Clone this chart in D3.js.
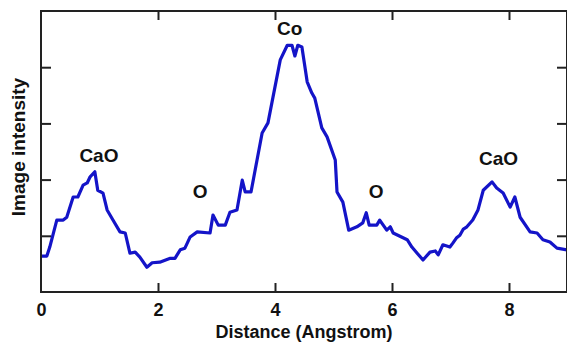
<!DOCTYPE html>
<html><head><meta charset="utf-8">
<script src="https://cdn.jsdelivr.net/npm/d3@7"></script>
<style>body{margin:0;background:#fff}svg{display:block}text{font-family:"Liberation Sans",Arial,sans-serif;font-weight:bold}</style>
</head><body>
<script>
const distance = [0,0.10,0.15,0.27,0.38,0.44,0.55,0.63,0.72,0.79,0.84,0.92,0.97,1.06,1.13,1.23,1.35,1.44,1.52,1.61,1.69,1.81,1.90,2.03,2.21,2.29,2.38,2.46,2.55,2.67,2.89,2.94,3.03,3.15,3.23,3.35,3.44,3.49,3.59,3.78,3.88,4.09,4.21,4.29,4.34,4.39,4.46,4.55,4.63,4.68,4.80,4.89,5.03,5.06,5.16,5.26,5.40,5.50,5.56,5.61,5.74,5.79,5.85,5.91,5.97,6.02,6.26,6.34,6.43,6.53,6.65,6.74,6.79,6.87,6.99,7.04,7.10,7.16,7.22,7.28,7.38,7.47,7.56,7.71,7.79,7.90,8.02,8.10,8.19,8.36,8.48,8.58,8.70,8.82,8.99];
const intensity = [0.64,0.64,0.80,1.28,1.28,1.33,1.69,1.69,1.90,1.94,2.05,2.14,1.81,1.76,1.46,1.28,1.07,1.05,0.69,0.71,0.62,0.44,0.52,0.53,0.60,0.60,0.75,0.78,0.98,1.07,1.05,1.37,1.19,1.19,1.42,1.46,1.99,1.78,1.78,2.83,3.01,4.13,4.39,4.39,4.20,4.39,4.36,3.74,3.54,3.45,2.92,2.76,2.35,1.78,1.60,1.10,1.16,1.23,1.41,1.19,1.19,1.28,1.19,1.10,1.16,1.05,0.93,0.80,0.69,0.57,0.71,0.73,0.66,0.84,0.80,0.87,0.96,1.01,1.12,1.16,1.28,1.46,1.81,1.96,1.85,1.76,1.51,1.69,1.33,1.07,1.05,0.93,0.89,0.78,0.75];
const xTicks = [0,2,4,6,8];
const yTicks = [1,2,3,4];
const peakLabels = ["CaO","O","Co","O","CaO"];
const peakX = [0.99,2.72,4.25,5.73,7.82];
const peakY = [2.31,1.67,4.57,1.67,2.26];

const W=567,H=343;
const svg=d3.select("body").append("svg").attr("width",W).attr("height",H);
const x=d3.scaleLinear().domain([0,9]).range([41,567.5]);
const y=d3.scaleLinear().domain([0,5]).range([292,11]);

// line
svg.append("path").datum(distance.map((d,i)=>[d,intensity[i]]))
  .attr("d",d3.line().x(d=>x(d[0])).y(d=>y(d[1])))
  .attr("fill","none").attr("stroke","#1414c8").attr("stroke-width",3.2).attr("stroke-linejoin","round");

// axes (ticks inward)
const ax=d3.axisBottom(x).tickValues(xTicks).tickSize(-9).tickPadding(11.5).tickFormat(d3.format("d"));
const gx=svg.append("g").attr("transform","translate(0,292)").call(ax);
gx.selectAll(".tick line").filter(d=>d===0).remove();
const gxt=svg.append("g").attr("transform","translate(0,11)").call(d3.axisTop(x).tickValues(xTicks.filter(d=>d>0)).tickSize(-9).tickFormat(""));
const gyl=svg.append("g").attr("transform","translate(41,0)").call(d3.axisLeft(y).tickValues(yTicks).tickSize(-10).tickFormat(""));
const gyr=svg.append("g").attr("transform","translate(567,0)").call(d3.axisRight(y).tickValues(yTicks).tickSize(-10).tickFormat(""));
[gx,gxt,gyl,gyr].forEach(g=>{
  g.select(".domain").remove();
  g.selectAll(".tick line").attr("stroke","#222").attr("stroke-width",2);
});
gx.selectAll(".tick text").attr("font-size",18).attr("fill","#111").attr("font-family","Liberation Sans, Arial").attr("font-weight","bold");
// frame
svg.append("rect").attr("x",41).attr("y",11).attr("width",526).attr("height",281)
  .attr("fill","none").attr("stroke","#222").attr("stroke-width",2);

// peak labels
svg.selectAll(".pk").data(peakLabels).enter().append("text")
  .attr("x",(d,i)=>x(peakX[i])).attr("y",(d,i)=>y(peakY[i]))
  .attr("text-anchor","middle").attr("font-size",19).attr("fill","#111").text(d=>d);

// axis titles
svg.append("text").attr("x",304).attr("y",338).attr("text-anchor","middle").attr("font-size",18).attr("fill","#111").text("Distance (Angstrom)");
svg.append("text").attr("transform","translate(25,147) rotate(-90)").attr("text-anchor","middle").attr("font-size",19).attr("fill","#111").text("Image intensity");
</script>
</body></html>
